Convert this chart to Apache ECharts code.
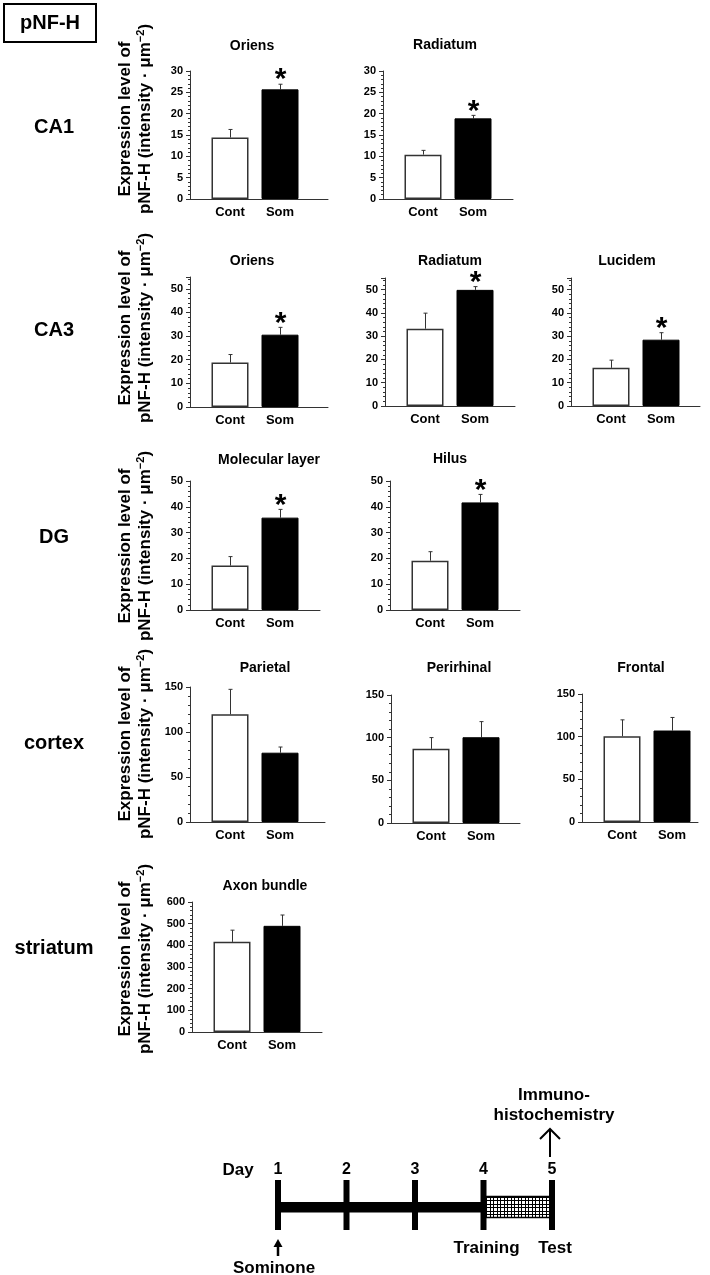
<!DOCTYPE html>
<html>
<head>
<meta charset="utf-8">
<title>pNF-H</title>
<script src="https://cdn.jsdelivr.net/npm/echarts@6/dist/echarts.min.js"></script>
<style>
  html, body { margin: 0; padding: 0; background: #fff; }
  #main { width: 710px; height: 1275px; }
</style>
</head>
<body>
<div id="main"></div>
<script>
// ---- data ----
const groups = ['Cont', 'Som']
const regions = ['CA1', 'CA3', 'DG', 'cortex', 'striatum']
const panelTitles = ['Oriens', 'Radiatum', 'Oriens', 'Radiatum', 'Lucidem', 'Molecular layer', 'Hilus', 'Parietal', 'Perirhinal', 'Frontal', 'Axon bundle']
const contMean = [14.4, 10.4, 18.8, 33.2, 16.4, 17.2, 19.1, 119.6, 86.9, 100.5, 416]
const contErr = [1.9, 1.0, 3.4, 6.7, 3.3, 3.5, 3.5, 27.8, 13.2, 19.2, 54]
const somMean = [25.7, 18.9, 30.6, 49.9, 28.5, 35.8, 41.7, 77.0, 100.5, 107.2, 490]
const somErr = [1.2, 0.7, 3.1, 1.4, 3.0, 3.2, 3.1, 6.3, 18.3, 15.3, 50]
const significant = [1, 1, 1, 1, 1, 1, 1, 0, 0, 0, 0]
const yMax = [30, 30, 55, 55, 55, 50, 50, 150, 150, 150, 600]
const yStep = [5, 5, 10, 10, 10, 10, 10, 50, 50, 50, 100]

// timeline
const days = [1, 2, 3, 4, 5]
const phases = [[1, 4, 0], [4, 5, 1]] // from, to, hatched?
const events = [
  { day: 1, label: 'Sominone', side: 'below', arrow: true },
  { day: 4, label: 'Training', side: 'below', arrow: false },
  { day: 5, label: 'Test', side: 'below', arrow: false },
  { day: 5, label: 'Immuno-\nhistochemistry', side: 'above', arrow: true }
]

// ---- layout ----
// y-axis x, x-axis end, top (max), bottom (0), title center x, title center y
const panelBox = [
  [190, 328, 71, 199, 252, 47],
  [383, 513, 71, 199, 445, 46],
  [190, 328, 277, 407, 252, 262],
  [385, 515, 278, 406, 450, 262],
  [571, 700, 278, 406, 627, 262],
  [190, 320, 481, 610, 269, 461],
  [390, 520, 481, 610, 450, 460],
  [190, 325, 687, 822, 265, 669],
  [391, 520, 695, 823, 459, 669],
  [582, 698, 694, 822, 641, 669],
  [192, 322, 902, 1032, 265, 887]
]
const rowLabelY = [127, 330, 537, 743, 948]
const yNameY = [119, 328, 546, 744, 959]

const FONT = '"Liberation Sans", Arial, Helvetica, sans-serif'
const AXIS_COLOR = '#333'
const GAP = 50 // px between the two bars
const X0 = 0.2 // x axis starts a bit left of group 1

const chart = echarts.init(document.getElementById('main'))

const boldText = (size) => ({ color: '#000', fontSize: size, fontWeight: 'bold', fontFamily: FONT })

const grids = []
const xAxes = []
const yAxes = []
const series = []

panelBox.forEach((b, i) => {
  const w = b[1] - b[0]
  grids.push({ left: b[0], top: b[2], width: w, height: b[3] - b[2] })
  xAxes.push({
    gridIndex: i,
    type: 'value',
    min: X0,
    max: X0 + w / GAP,
    axisLine: { show: true, onZero: false, lineStyle: { color: AXIS_COLOR, width: 1 } },
    axisTick: { show: false },
    splitLine: { show: false },
    axisLabel: Object.assign({
      customValues: [1, 2],
      formatter: v => groups[Math.round(v) - 1] || '',
      margin: 7
    }, boldText(13))
  })
  yAxes.push({
    gridIndex: i,
    type: 'value',
    min: 0,
    max: yMax[i],
    interval: yStep[i],
    axisLine: { show: true, onZero: false, lineStyle: { color: AXIS_COLOR, width: 1 } },
    axisTick: { show: true, length: 4, lineStyle: { color: AXIS_COLOR } },
    minorTick: { show: true, splitNumber: 5, length: 2, lineStyle: { color: AXIS_COLOR } },
    splitLine: { show: false },
    axisLabel: Object.assign({ margin: 7, showMaxLabel: yMax[i] % yStep[i] === 0 }, boldText(11))
  })
  series.push({
    type: 'bar',
    xAxisIndex: i,
    yAxisIndex: i,
    barWidth: 37,
    silent: true,
    data: [
      { value: [1, contMean[i]], itemStyle: { color: '#fff', borderColor: AXIS_COLOR, borderWidth: 1.5 } },
      { value: [2, somMean[i]], itemStyle: { color: '#000', borderColor: '#000', borderWidth: 1 } }
    ]
  })
  // 误差线 + 显著性星号
  series.push({
    type: 'custom',
    xAxisIndex: i,
    yAxisIndex: i,
    silent: true,
    data: [[1, contMean[i], contErr[i], 0], [2, somMean[i], somErr[i], significant[i]]],
    renderItem (params, api) {
      const top = api.coord([api.value(0), api.value(1)])
      const tip = api.coord([api.value(0), api.value(1) + api.value(2)])
      const x = Math.round(tip[0]) + 0.5
      const children = [
        { type: 'line', shape: { x1: x, y1: top[1], x2: x, y2: tip[1] }, style: { stroke: AXIS_COLOR, lineWidth: 1 } },
        { type: 'line', shape: { x1: x - 2, y1: tip[1], x2: x + 2, y2: tip[1] }, style: { stroke: AXIS_COLOR, lineWidth: 1 } }
      ]
      if (api.value(3)) {
        children.push({
          type: 'text',
          x: x,
          y: tip[1] - 4,
          style: {
            text: '*', fill: '#000', fontSize: 30, fontWeight: 'bold', fontFamily: FONT,
            textAlign: 'center', align: 'center', textVerticalAlign: 'middle', verticalAlign: 'middle'
          }
        })
      }
      return { type: 'group', children }
    }
  })
})

// ---- timeline ----
const T = panelBox.length
const BAR_Y = 0.46
grids.push({ left: 278, top: 1180, width: 274, height: 50 })
xAxes.push({
  gridIndex: T,
  type: 'value',
  min: 1,
  max: 5,
  interval: 1,
  position: 'top',
  axisLine: { show: false },
  axisTick: { show: false },
  splitLine: { show: false },
  axisLabel: Object.assign({ margin: 2 }, boldText(16))
})
yAxes.push({ gridIndex: T, type: 'value', min: 0, max: 1, show: false })

const hatch = document.createElement('canvas')
hatch.width = 7
hatch.height = 7
const hctx = hatch.getContext('2d')
hctx.fillStyle = '#fff'
hctx.fillRect(0, 0, 7, 7)
hctx.fillStyle = '#000'
hctx.fillRect(0, 0, 7, 1)
hctx.fillRect(0, 3, 7, 1)
hctx.fillRect(0, 0, 1, 7)
hctx.fillRect(3, 0, 1, 7)

series.push({
  type: 'custom',
  xAxisIndex: T,
  yAxisIndex: T,
  silent: true,
  data: phases,
  renderItem (params, api) {
    const a = api.coord([api.value(0), BAR_Y])
    const b = api.coord([api.value(1), BAR_Y])
    if (api.value(2)) {
      return {
        type: 'rect',
        shape: { x: a[0], y: a[1] - 10.5, width: b[0] - a[0], height: 21 },
        style: { fill: { image: hatch, repeat: 'repeat' }, stroke: '#000', lineWidth: 1.5 }
      }
    }
    return { type: 'rect', shape: { x: a[0], y: a[1] - 5, width: b[0] - a[0], height: 10.5 }, style: { fill: '#000' } }
  }
})

series.push({
  type: 'custom',
  xAxisIndex: T,
  yAxisIndex: T,
  silent: true,
  data: days.map(d => [d]),
  renderItem (params, api) {
    const p1 = api.coord([api.value(0), 1])
    const p0 = api.coord([api.value(0), 0])
    return { type: 'rect', shape: { x: p1[0] - 3, y: p1[1], width: 6, height: p0[1] - p1[1] }, style: { fill: '#000' } }
  }
})

series.push({
  type: 'custom',
  xAxisIndex: T,
  yAxisIndex: T,
  silent: true,
  data: events.map(e => [e.day]),
  renderItem (params, api) {
    const ev = events[params.dataIndex]
    const top = api.coord([api.value(0), 1])
    const bottom = api.coord([api.value(0), 0])
    const x = top[0]
    const textStyle = (t) => ({
      text: t, fill: '#000', fontSize: 17, fontWeight: 'bold', fontFamily: FONT, lineHeight: 20,
      textAlign: 'center', align: 'center', textVerticalAlign: 'middle', verticalAlign: 'middle'
    })
    const children = []
    if (ev.side === 'below' && ev.arrow) {
      children.push(
        { type: 'line', shape: { x1: x, y1: bottom[1] + 26, x2: x, y2: bottom[1] + 15 }, style: { stroke: '#000', lineWidth: 2.5 } },
        { type: 'polygon', shape: { points: [[x, bottom[1] + 9], [x - 4.5, bottom[1] + 17], [x + 4.5, bottom[1] + 17]] }, style: { fill: '#000' } },
        { type: 'text', x: x - 4, y: bottom[1] + 38, style: textStyle(ev.label) }
      )
    } else if (ev.side === 'below') {
      children.push({ type: 'text', x: x + 3, y: bottom[1] + 18, style: textStyle(ev.label) })
    } else {
      const ax = x - 2
      children.push(
        { type: 'line', shape: { x1: ax, y1: top[1] - 23, x2: ax, y2: top[1] - 50 }, style: { stroke: '#000', lineWidth: 2 } },
        { type: 'polyline', shape: { points: [[ax - 10, top[1] - 41], [ax, top[1] - 51], [ax + 10, top[1] - 41]] }, style: { stroke: '#000', lineWidth: 2, fill: null } },
        { type: 'text', x: x + 2, y: top[1] - 75, style: textStyle(ev.label) }
      )
    }
    return { type: 'group', children }
  }
})

// ---- texts outside the plots ----
const plainText = (x, y, text, size, extra) => ({
  type: 'text',
  x,
  y,
  style: Object.assign({
    text, fill: '#000', fontSize: size, fontWeight: 'bold', fontFamily: FONT,
    textAlign: 'center', align: 'center', textVerticalAlign: 'middle', verticalAlign: 'middle'
  }, extra || {})
})

const graphic = [
  { type: 'rect', shape: { x: 4, y: 4, width: 92, height: 38 }, style: { fill: '#fff', stroke: '#000', lineWidth: 2 } },
  plainText(50, 23, 'pNF-H', 20),
  plainText(238, 1170, 'Day', 17)
]
regions.forEach((r, k) => graphic.push(plainText(54, rowLabelY[k], r, 20)))
yNameY.forEach(y => {
  const t = plainText(135.5, y, 'Expression level of\npNF-H (intensity · μm{sup|−2})', 17, {
    lineHeight: 20,
    rich: { sup: { fontSize: 11, fontWeight: 'bold', fontFamily: FONT, fill: '#000', verticalAlign: 'top' } }
  })
  t.rotation = Math.PI / 2
  graphic.push(t)
})

const option = {
  animation: false,
  backgroundColor: '#fff',
  title: panelBox.map((b, i) => ({
    text: panelTitles[i],
    left: b[4],
    top: b[5] - 8,
    textAlign: 'center',
    padding: 0,
    textStyle: boldText(14)
  })),
  grid: grids,
  xAxis: xAxes,
  yAxis: yAxes,
  series,
  graphic
}

chart.setOption(option)
</script>
</body>
</html>
